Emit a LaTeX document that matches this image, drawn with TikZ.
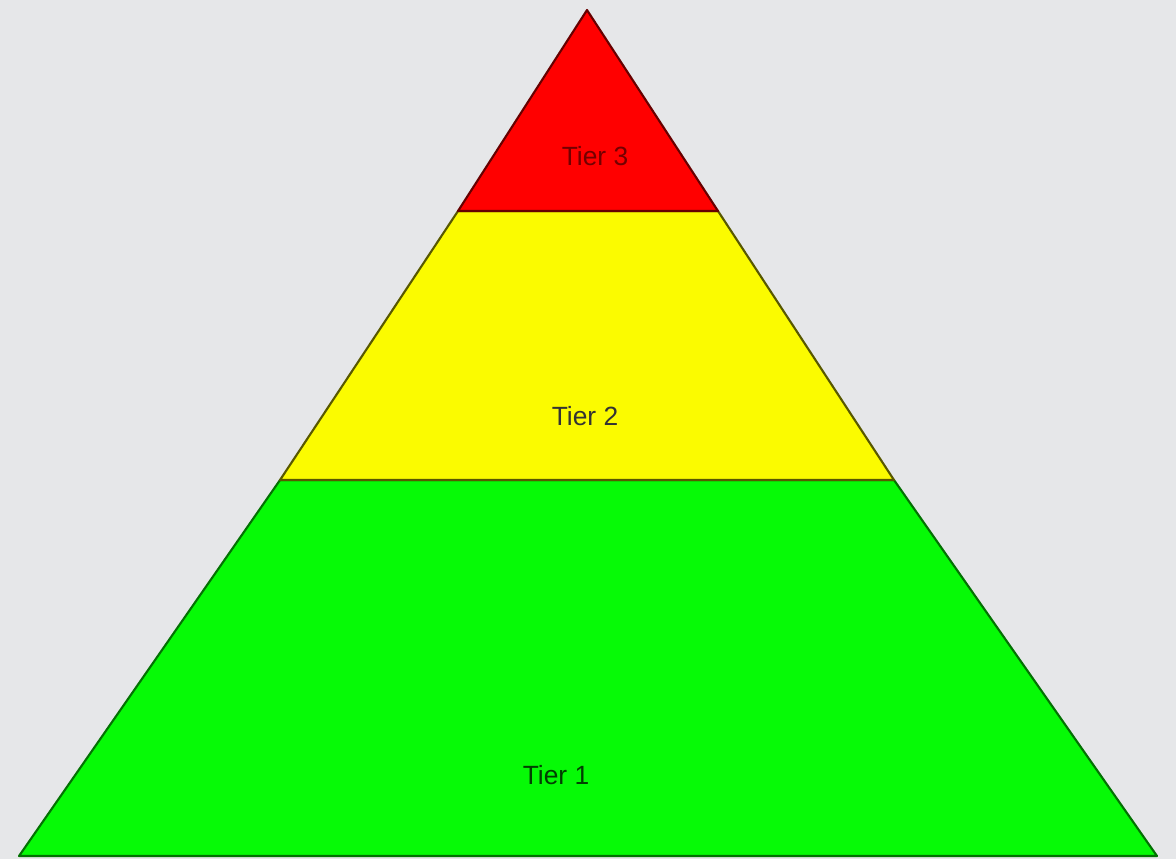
\documentclass[tikz,border=0pt]{standalone}
\usepackage{fontspec}
\setmainfont{Liberation Sans}
\usepackage{xcolor}
\usepackage{tikz}
\usetikzlibrary{positioning}
\definecolor{bggray}{HTML}{E6E7E9}
\definecolor{tierred}{HTML}{FF0000}
\definecolor{tieryellow}{HTML}{FBFB00}
\definecolor{tiergreen}{HTML}{06FA06}

\begin{document}
\begin{tikzpicture}[x=0.01cm, y=-0.01cm, line join=round]
  \fill[bggray] (0,0) rectangle (1176,859);
  \useasboundingbox (0,0) rectangle (1176,859);
  \coordinate (apex) at (587,10);
  \coordinate (l3) at (458,211);
  \coordinate (r3) at (718,211);
  \coordinate (l2) at (280,480);
  \coordinate (r2) at (894,480);
  \coordinate (l1) at (19,856);
  \coordinate (r1) at (1157,856);
  \filldraw[fill=tiergreen, draw=tiergreen!45!black, line width=0.6pt] (l2) -- (r2) -- (r1) -- (l1) -- cycle;
  \filldraw[fill=tieryellow, draw=tieryellow!35!black, line width=0.6pt] (l3) -- (r3) -- (r2) -- (l2) -- cycle;
  \filldraw[fill=tierred, draw=tierred!40!black, line width=0.6pt] (apex) -- (r3) -- (l3) -- cycle;
  \node[font=\fontsize{7.5}{9}\selectfont, text=tierred!45!black] (t3) at (595,156) {Tier 3};
  \node[font=\fontsize{7.5}{9}\selectfont, text=black!80] (t2) at (585,416) {Tier 2};
  \node[font=\fontsize{7.5}{9}\selectfont, text=tiergreen!25!black] (t1) at (556,775) {Tier 1};
\end{tikzpicture}
\end{document}
